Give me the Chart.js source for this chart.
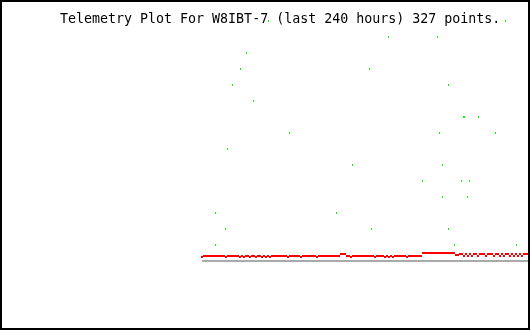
<!DOCTYPE html>
<html>
<head>
<meta charset="utf-8">
<script src="https://cdn.jsdelivr.net/npm/chart.js@4.4.0/dist/chart.umd.min.js"></script>
<style>
  body { margin: 0; background: #ffffff; }
  canvas { display: block; }
</style>
</head>
<body>
<canvas id="grafico" width="530" height="330"></canvas>
<script>
var titulo = 'Telemetry Plot For W8IBT-7 (last 240 hours) 327 points.';

// horas (negativas = antes de agora) das leituras de telemetria
var horasVermelho = [
  -148.5,-147.6,-146.7,-145.8,-144.9,-144.0,-143.1,-142.2,-141.3,-140.4,
  -139.5,-138.6,-137.7,-136.8,-135.9,-135.0,-134.1,-133.2,-132.3,-131.4,
  -130.5,-129.6,-128.7,-127.8,-126.9,-126.0,-125.1,-124.2,-123.3,-122.4,
  -121.5,-120.6,-119.7,-118.8,-117.9,-117.0,-116.1,-115.2,-114.3,-113.4,
  -112.5,-111.6,-110.7,-109.8,-108.9,-108.0,-107.1,-106.2,-105.3,-104.4,
  -103.5,-102.6,-101.7,-100.8,-99.9,-99.0,-98.1,-97.2,-96.3,-95.4,
  -94.5,-93.6,-92.7,-91.8,-90.9,-90.0,-89.1,-88.2,-87.3,-86.4,
  -85.5,-84.6,-83.7,-82.8,-81.9,-81.0,-80.1,-79.2,-78.3,-77.4,
  -76.5,-75.6,-74.7,-73.8,-72.9,-72.0,-71.1,-70.2,-69.3,-68.4,
  -67.5,-66.6,-65.7,-64.8,-63.9,-63.0,-62.1,-61.2,-60.3,-59.4,
  -58.5,-57.6,-56.7,-55.8,-54.9,-54.0,-53.1,-52.2,-51.3,-50.4,
  -49.5,-48.6,-47.7,-46.8,-45.9,-45.0,-44.1,-43.2,-42.3,-41.4,
  -40.5,-39.6,-38.7,-37.8,-36.9,-36.0,-35.1,-34.2,-33.3,-32.4,
  -31.5,-30.6,-29.7,-28.8,-27.9,-27.0,-26.1,-25.2,-24.3,-23.4,
  -22.5,-21.6,-20.7,-19.8,-18.9,-18.0,-17.1,-16.2,-15.3,-14.4,
  -13.5,-12.6,-11.7,-10.8,-9.9,-9.0,-8.1,-7.2,-6.3,-5.4,
  -4.5,-3.6,-2.7,-1.8,-0.9
];
var valoresVermelho = [
  0.25,0.34,0.34,0.34,0.34,0.34,0.34,0.34,0.34,0.34,
  0.34,0.34,0.25,0.34,0.34,0.34,0.34,0.34,0.34,0.25,
  0.34,0.25,0.34,0.34,0.25,0.34,0.34,0.25,0.34,0.34,
  0.25,0.34,0.25,0.34,0.25,0.34,0.34,0.34,0.34,0.34,
  0.34,0.34,0.34,0.25,0.34,0.34,0.34,0.34,0.34,0.34,
  0.25,0.34,0.34,0.34,0.34,0.34,0.34,0.34,0.25,0.34,
  0.34,0.34,0.34,0.34,0.34,0.34,0.34,0.34,0.34,0.34,
  0.44,0.44,0.44,0.30,0.34,0.25,0.34,0.34,0.34,0.34,
  0.34,0.34,0.34,0.34,0.34,0.34,0.34,0.25,0.34,0.34,
  0.34,0.34,0.25,0.34,0.25,0.34,0.25,0.34,0.34,0.34,
  0.34,0.34,0.34,0.25,0.34,0.34,0.34,0.34,0.34,0.34,
  0.34,0.53,0.53,0.53,0.53,0.53,0.53,0.53,0.53,0.53,
  0.53,0.53,0.47,0.53,0.53,0.47,0.47,0.47,0.40,0.40,
  0.45,0.45,0.33,0.45,0.33,0.45,0.33,0.45,0.45,0.33,
  0.45,0.45,0.45,0.33,0.45,0.45,0.45,0.33,0.45,0.45,
  0.33,0.45,0.33,0.45,0.45,0.33,0.45,0.33,0.45,0.33,
  0.45,0.33,0.45,0.45,0.45
];

// leituras verdes (nivel inteiro)
var horasVerde = [
  -118.2,-10.9,-64.3,-41.7,-128.6,-130.9,-72.5,-134.5,-36.7,-125.0,
  -29.9,-29.6,-23.5,-108.7,-41.2,-15.8,-136.8,-80.2,-39.8,-48.9,
  -30.8,-27.6,-39.4,-28.1,-142.6,-87.4,-137.7,-72.0,-37.1,-142.2,
  -34.0,-6.3,-6.0
];
var valoresVerde = [
  15,15,14,14,13,12,12,11,11,10,
  9,9,9,8,8,8,7,6,6,5,
  5,5,4,4,3,3,2,2,2,1,
  1,1,1
];

function pontos(xs, ys){
    var lista = [];
    for (var i = 0; i < xs.length; i++) {
        lista.push({x: xs[i], y: ys[i]});
    }
    return lista;
}

function marca(cor, w, h){
    var c = document.createElement('canvas');
    c.width = w;
    c.height = h;
    var g = c.getContext('2d');
    g.fillStyle = cor;
    g.fillRect(0, 0, w, h);
    return c;
}

var moldura = {
    id: 'moldura',
    beforeDatasetsDraw: function(chart){
        // marcas sem suavizar, como no grafico original
        chart.ctx.imageSmoothingEnabled = false;
    },
    afterDraw: function(chart){
        var ctx = chart.ctx;
        ctx.save();
        ctx.fillStyle = '#000000';
        ctx.font = '13.3px "DejaVu Sans Mono"';
        ctx.textBaseline = 'alphabetic';
        ctx.fillText(titulo, 60, 23);
        ctx.strokeStyle = '#000000';
        ctx.lineWidth = 2;
        ctx.strokeRect(1, 1, 528, 328);
        ctx.restore();
    }
};

var ctx = document.getElementById('grafico');
var grafico = new Chart(ctx, {
    type: 'scatter',
    data: {
        datasets: [
            {
                // linha cinza de referencia
                data: pontos([horasVermelho[0], horasVermelho[horasVermelho.length - 1]], [0, 0]),
                showLine: true,
                borderColor: '#aaaaaa',
                borderWidth: 2,
                pointRadius: 0,
                order: 3
            },
            {
                data: pontos(horasVermelho, valoresVermelho),
                pointStyle: marca('#ff0000', 2, 2),
                pointRadius: 1,
                order: 2
            },
            {
                data: pontos(horasVerde, valoresVerde),
                pointStyle: marca('#00ff00', 1, 2),
                pointRadius: 1,
                order: 1
            }
        ]
    },
    options: {
        responsive: false,
        animation: false,
        layout: { padding: 0, autoPadding: false },
        plugins: {
            legend: { display: false },
            tooltip: { enabled: false },
            title: { display: false }
        },
        scales: {
            x: { type: 'linear', min: -240, max: 0, display: false },
            y: { min: -4.3125, max: 16.3125, display: false }
        }
    },
    plugins: [moldura]
});
</script>
</body>
</html>
